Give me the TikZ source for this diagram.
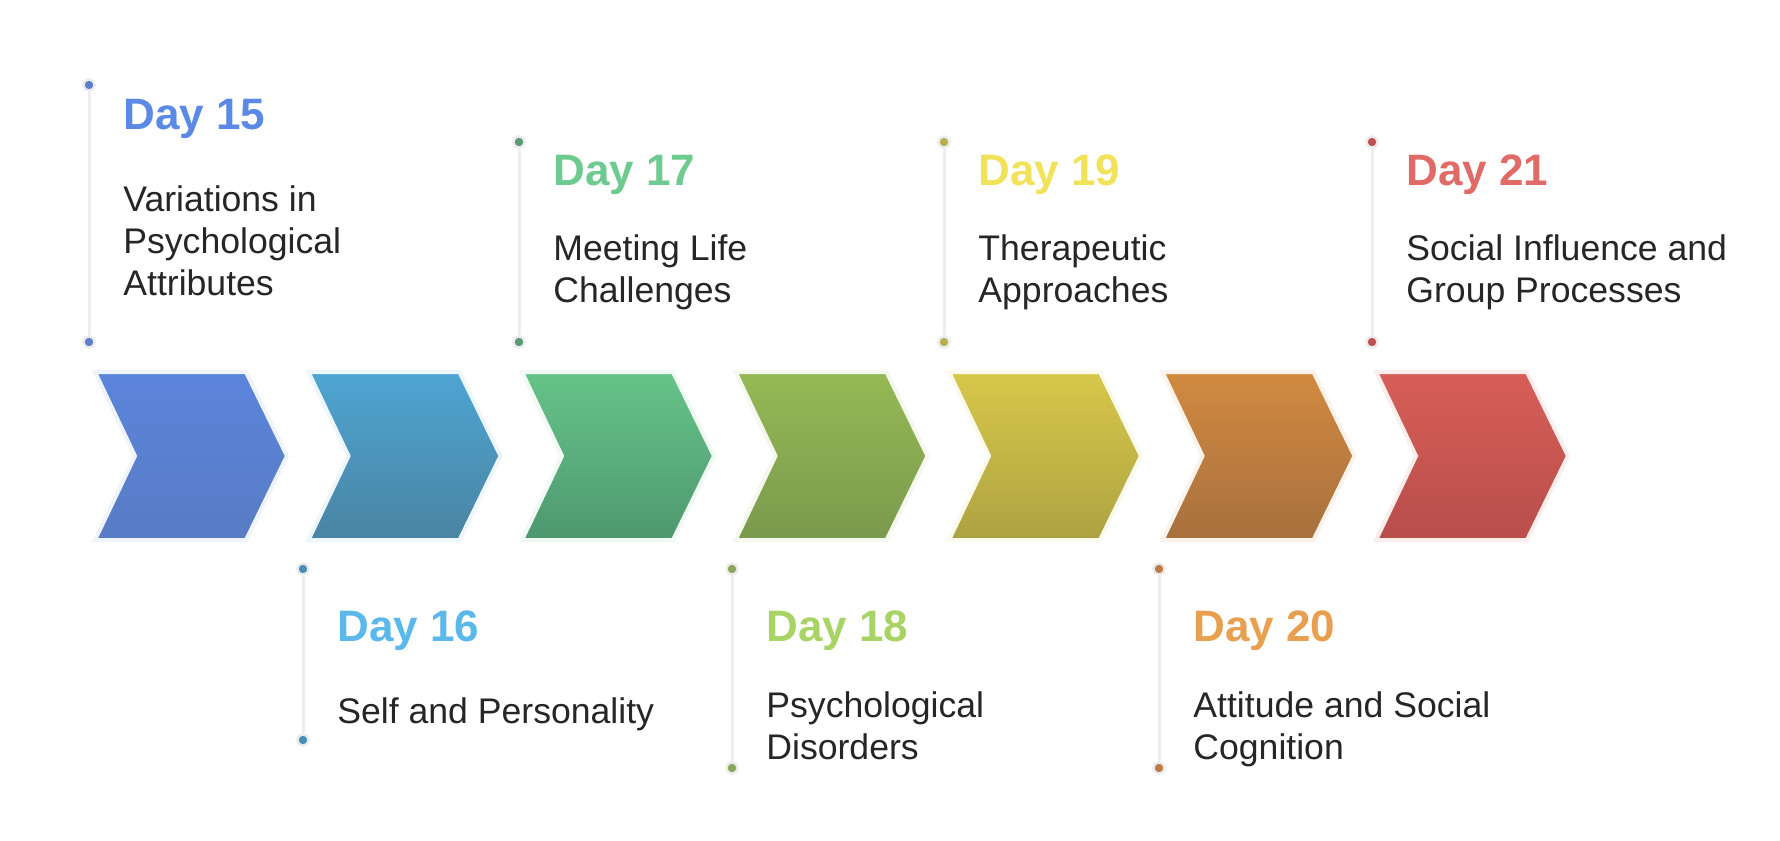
\documentclass[tikz,border=0pt]{standalone}
\usepackage{fontspec}
\setmainfont{Liberation Sans}
\usepackage{xcolor}
\usetikzlibrary{positioning}
\definecolor{bodytext}{HTML}{262626}
\definecolor{stemgray}{HTML}{EEEEEE}
\definecolor{day15}{HTML}{5A8AE6}
\definecolor{day16}{HTML}{5BB8EA}
\definecolor{day17}{HTML}{6DCB8F}
\definecolor{day18}{HTML}{A8D465}
\definecolor{day19}{HTML}{F2E25A}
\definecolor{day20}{HTML}{E8A050}
\definecolor{day21}{HTML}{E06A66}
\definecolor{dot15}{HTML}{5B7FCC}
\definecolor{dot16}{HTML}{4A8DB5}
\definecolor{dot17}{HTML}{5A9A75}
\definecolor{dot18}{HTML}{8DA55A}
\definecolor{dot19}{HTML}{B5B04A}
\definecolor{dot20}{HTML}{C07A45}
\definecolor{dot21}{HTML}{C0504F}
\definecolor{ch1t}{HTML}{5B84DC}\definecolor{ch1b}{HTML}{587CC4}
\definecolor{ch2t}{HTML}{4EA5D3}\definecolor{ch2b}{HTML}{4A84A2}
\definecolor{ch3t}{HTML}{66C488}\definecolor{ch3b}{HTML}{4E9870}
\definecolor{ch4t}{HTML}{95B955}\definecolor{ch4b}{HTML}{7A9A4C}
\definecolor{ch5t}{HTML}{D7C84A}\definecolor{ch5b}{HTML}{ADA242}
\definecolor{ch6t}{HTML}{D28A40}\definecolor{ch6b}{HTML}{A8703E}
\definecolor{ch7t}{HTML}{D85E58}\definecolor{ch7b}{HTML}{B84E4B}
\tikzstyle{dot}=[circle,draw=white!92!black,line width=1.2pt,minimum size=5.6pt,inner sep=0pt]
\tikzstyle{stem}=[draw=stemgray,line width=1.5pt]
\tikzstyle{daytitle}=[font=\fontsize{22}{26}\selectfont\bfseries,anchor=base west,inner sep=0pt]
\tikzstyle{body}=[font=\fontsize{17.8}{21}\selectfont,text=bodytext,anchor=base west,inner sep=0pt]
\tikzstyle{chev}=[line width=2pt,line join=miter]

\begin{document}
\begin{tikzpicture}[x=0.5pt,y=-0.5pt]

 \useasboundingbox[fill=white] (0,0) rectangle (1780,840);

 %Chevrons
 \foreach \i/\ct/\cb in {0/ch1t/ch1b, 1/ch2t/ch2b, 2/ch3t/ch3b, 3/ch4t/ch4b, 4/ch5t/ch5b, 5/ch6t/ch6b, 6/ch7t/ch7b}
   \shadedraw[chev, top color=\ct, bottom color=\cb, draw=\ct!10]
     ({95+213.5*\i},372) -- ({246+213.5*\i},372) -- ({287+213.5*\i},456)
     -- ({246+213.5*\i},540) -- ({95+213.5*\i},540) -- ({135+213.5*\i},456) -- cycle;

 %Day 15
 \def\dx{89}
 \foreach \y/\name in {85/t15, 342/b15}
   \node[dot, fill=dot15] (\name) at (\dx,\y) {};
 \path[stem] (t15) -- (b15);
 \node[daytitle, text=day15] (day15) at (\dx+34,129) {Day 15};
 \foreach \k/\txt in {0/Variations in, 1/Psychological, 2/Attributes}
   \node[body] (d15l\k) at (\dx+34,211+42*\k) {\txt};

 %Day 16
 \def\dx{303}
 \foreach \y/\name in {569/t16, 740/b16}
   \node[dot, fill=dot16] (\name) at (\dx,\y) {};
 \path[stem] (t16) -- (b16);
 \node[daytitle, text=day16] (day16) at (\dx+34,641) {Day 16};
 \node[body] (d16l0) at (\dx+34,723) {Self and Personality};

 %Day 17
 \def\dx{519}
 \foreach \y/\name in {142/t17, 342/b17}
   \node[dot, fill=dot17] (\name) at (\dx,\y) {};
 \path[stem] (t17) -- (b17);
 \node[daytitle, text=day17] (day17) at (\dx+34,185) {Day 17};
 \foreach \k/\txt in {0/Meeting Life, 1/Challenges}
   \node[body] (d17l\k) at (\dx+34,260+42*\k) {\txt};

 %Day 18
 \def\dx{732}
 \foreach \y/\name in {569/t18, 768/b18}
   \node[dot, fill=dot18] (\name) at (\dx,\y) {};
 \path[stem] (t18) -- (b18);
 \node[daytitle, text=day18] (day18) at (\dx+34,641) {Day 18};
 \foreach \k/\txt in {0/Psychological, 1/Disorders}
   \node[body] (d18l\k) at (\dx+34,717+42*\k) {\txt};

 %Day 19
 \def\dx{944}
 \foreach \y/\name in {142/t19, 342/b19}
   \node[dot, fill=dot19] (\name) at (\dx,\y) {};
 \path[stem] (t19) -- (b19);
 \node[daytitle, text=day19] (day19) at (\dx+34,185) {Day 19};
 \foreach \k/\txt in {0/Therapeutic, 1/Approaches}
   \node[body] (d19l\k) at (\dx+34,260+42*\k) {\txt};

 %Day 20
 \def\dx{1159}
 \foreach \y/\name in {569/t20, 768/b20}
   \node[dot, fill=dot20] (\name) at (\dx,\y) {};
 \path[stem] (t20) -- (b20);
 \node[daytitle, text=day20] (day20) at (\dx+34,641) {Day 20};
 \foreach \k/\txt in {0/Attitude and Social, 1/Cognition}
   \node[body] (d20l\k) at (\dx+34,717+42*\k) {\txt};

 %Day 21
 \def\dx{1372}
 \foreach \y/\name in {142/t21, 342/b21}
   \node[dot, fill=dot21] (\name) at (\dx,\y) {};
 \path[stem] (t21) -- (b21);
 \node[daytitle, text=day21] (day21) at (\dx+34,185) {Day 21};
 \foreach \k/\txt in {0/Social Influence and, 1/Group Processes}
   \node[body] (d21l\k) at (\dx+34,260+42*\k) {\txt};

\end{tikzpicture}
\end{document}
